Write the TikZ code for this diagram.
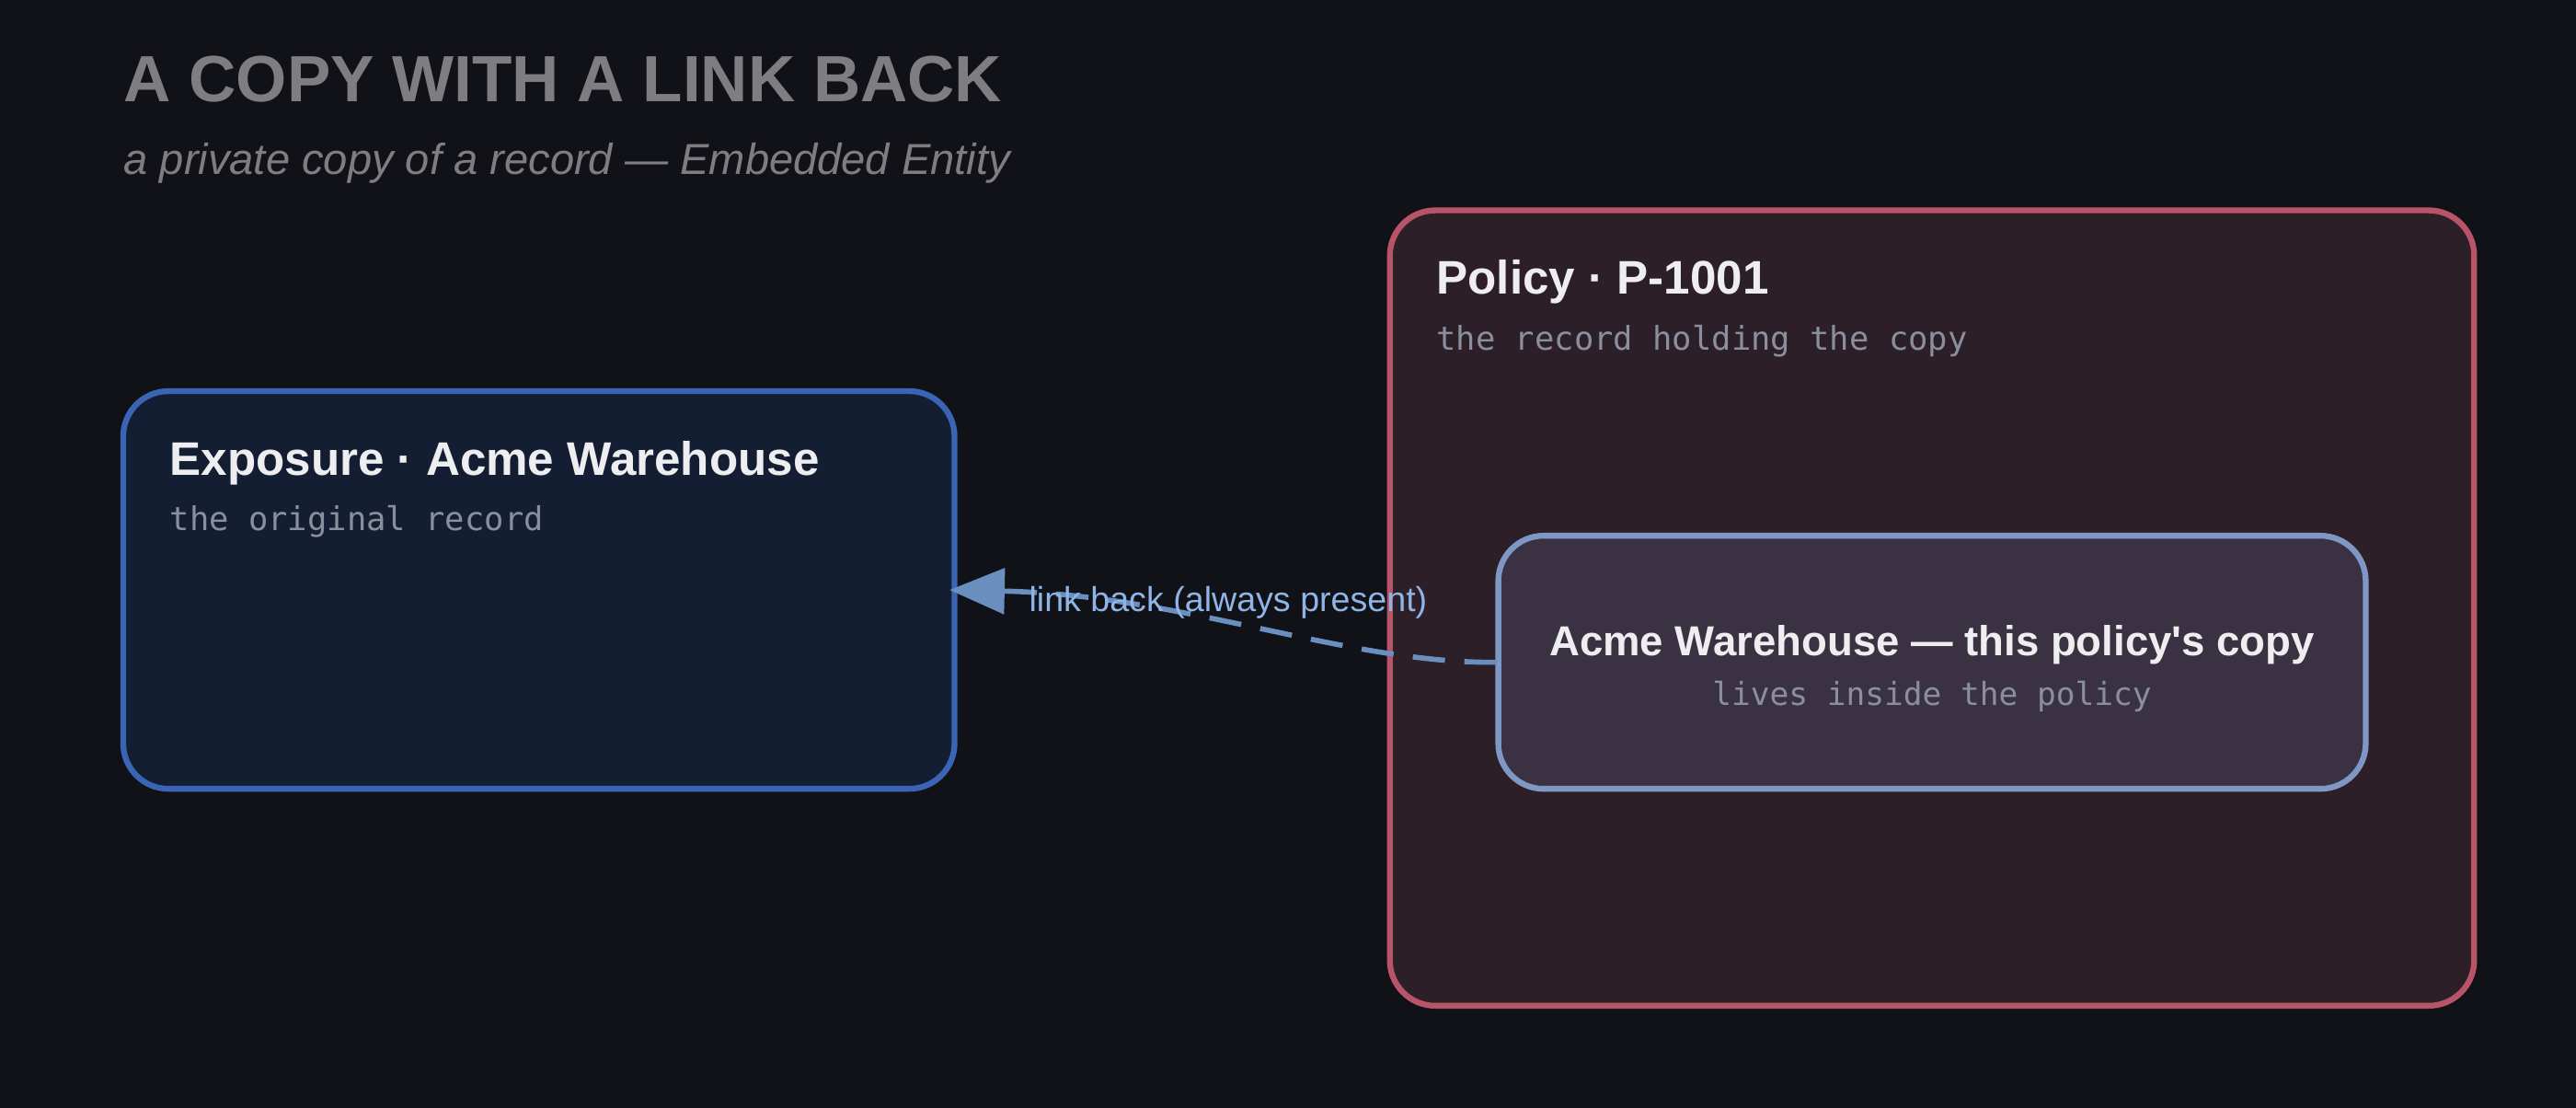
\documentclass[tikz,border=0pt]{standalone}
\usepackage{fontspec}
\setmainfont{Liberation Sans}
\setmonofont{DejaVu Sans Mono}
\usetikzlibrary{arrows.meta}
\definecolor{bg}{HTML}{111217}
\definecolor{expf}{HTML}{141E33}
\definecolor{exps}{HTML}{3A64B4}
\definecolor{polf}{HTML}{2D1F27}
\definecolor{pols}{HTML}{B85468}
\definecolor{inf}{HTML}{3A3242}
\definecolor{ins}{HTML}{7E97C4}
\definecolor{txt}{HTML}{EEEEF0}
\definecolor{mono}{HTML}{8A8F9E}
\definecolor{ttl}{HTML}{7D7D82}
\definecolor{arr}{HTML}{6A8FBF}
\definecolor{lbl}{HTML}{8FB4E6}
\begin{document}
\begin{tikzpicture}[x=0.017857cm,y=-0.017857cm,
  box/.style={rounded corners=14, line width=1.8pt},
  head/.style={anchor=base west, text=txt, font=\bfseries\fontsize{14.55}{18}\selectfont, inner sep=0},
  sub/.style={anchor=base west, text=mono, font=\ttfamily\fontsize{10.1}{13}\selectfont, inner sep=0}]
\fill[bg] (0,0) rectangle (1568,674);
\useasboundingbox (0,0) rectangle (1568,674);
\node[anchor=base west, inner sep=0, text=ttl, font=\bfseries\fontsize{20.2}{24}\selectfont] (title) at (75,62) {A COPY WITH A LINK BACK};
\node[anchor=base west, inner sep=0, text=ttl, font=\itshape\fontsize{13.4}{17}\selectfont] (subtitle) at (75,106) {a private copy of a record — Embedded Entity};
\draw[box, fill=expf, draw=exps] (75,238) rectangle (581,480);
\node[head] (exph) at (103,289) {Exposure · Acme Warehouse};
\node[sub] (exps) at (103,323) {the original record};
\coordinate (expR) at (578,359);
\draw[box, fill=polf, draw=pols] (846,128) rectangle (1506,612);
\node[head] (polh) at (874,179) {Policy · P-1001};
\node[sub] (pols) at (874,213) {the record holding the copy};
\draw[box, fill=inf, draw=ins] (912,326) rectangle (1440,480);
\coordinate (inL) at (911,403);
\node[anchor=base, inner sep=0, text=txt, font=\bfseries\fontsize{12.95}{17}\selectfont] (inh) at (1176,399) {Acme Warehouse — this policy\textquotesingle s copy};
\node[anchor=base, inner sep=0, text=mono, font=\ttfamily\fontsize{9.8}{12}\selectfont] (ins) at (1176,429) {lives inside the policy};
\draw[arr, line width=1.6pt, dash pattern=on 10pt off 6pt, -{Triangle[length=17pt,width=14pt]}]
  (inL) .. controls (820,404) and (720,362) .. (expR);
\node[anchor=base west, inner sep=0, text=lbl, font=\fontsize{10.7}{13}\selectfont] (lab) at (626,372) {link back (always present)};
\end{tikzpicture}
\end{document}
